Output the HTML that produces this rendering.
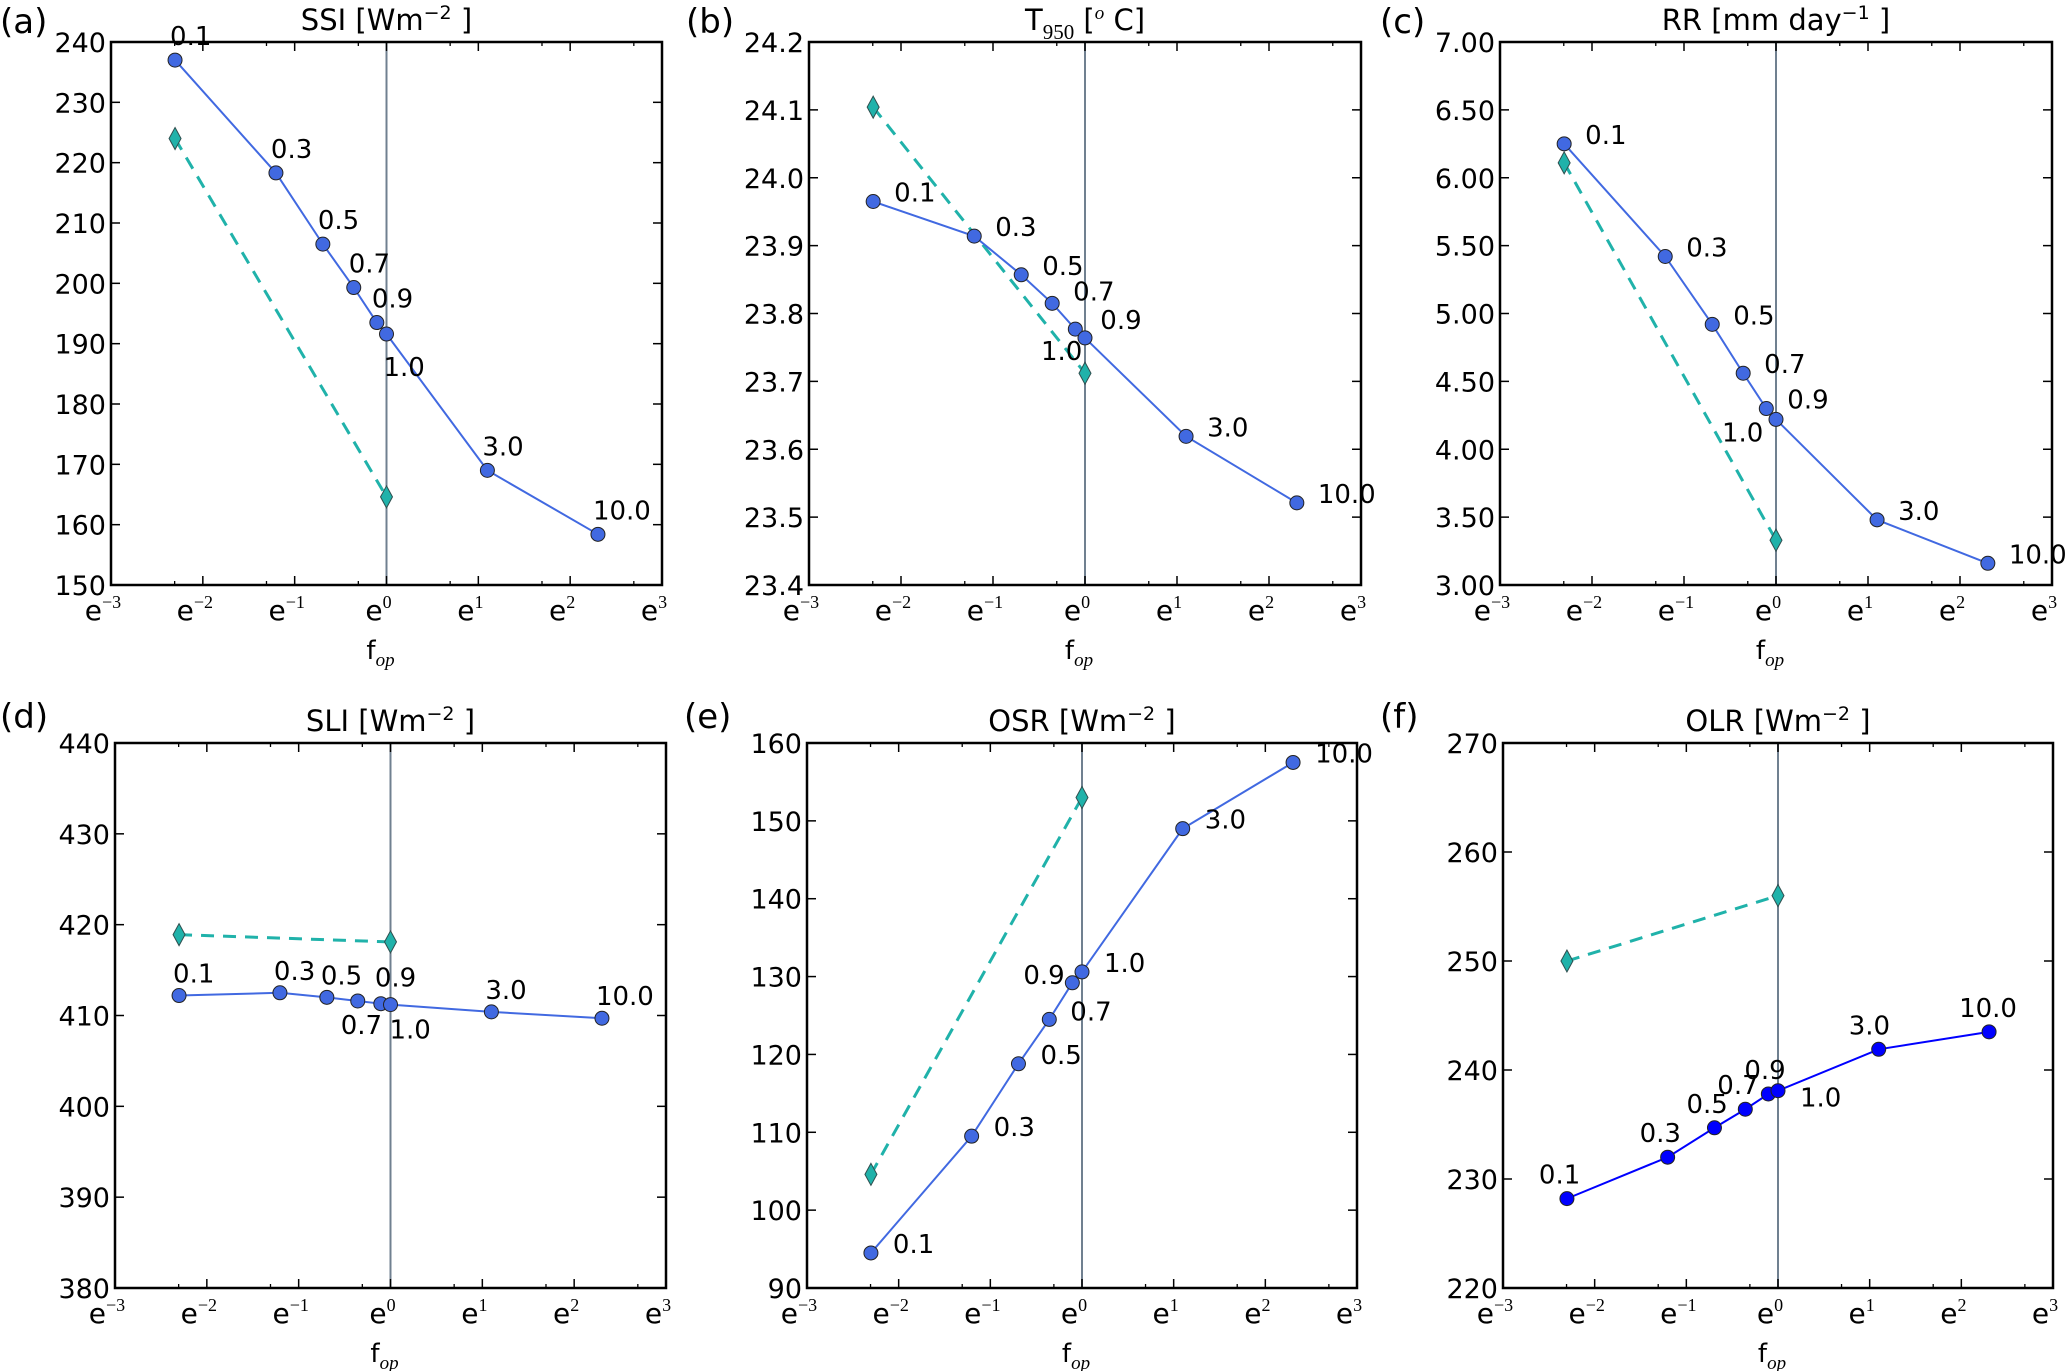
<!DOCTYPE html>
<html><head><meta charset="utf-8"><style>
html,body{margin:0;padding:0;background:#fff;}
svg{display:block;font-family:"DejaVu Sans","Liberation Sans",sans-serif;}
</style></head><body>
<svg id="fig" width="2067" height="1371" viewBox="0 0 2067 1371" xmlns="http://www.w3.org/2000/svg"></svg>
<script>
// ---- data ----
const fopValues = [0.1, 0.3, 0.5, 0.7, 0.9, 1.0, 3.0, 10.0];
const fopLabels = ["0.1","0.3","0.5","0.7","0.9","1.0","3.0","10.0"];
const diamondFop = [0.1, 1.0];
const ssiValues = [237, 218.3, 206.5, 199.3, 193.5, 191.6, 169, 158.4];
const ssiDiamonds = [224, 164.6];
const t950Values = [23.965, 23.914, 23.857, 23.815, 23.777, 23.764, 23.619, 23.521];
const t950Diamonds = [24.104, 23.712];
const rrValues = [6.25, 5.42, 4.92, 4.56, 4.30, 4.22, 3.48, 3.16];
const rrDiamonds = [6.11, 3.33];
const sliValues = [412.2, 412.5, 412.0, 411.6, 411.3, 411.2, 410.4, 409.7];
const sliDiamonds = [418.9, 418.1];
const osrValues = [94.5, 109.5, 118.8, 124.5, 129.2, 130.6, 149.0, 157.5];
const osrDiamonds = [104.6, 153.0];
const olrValues = [228.2, 232.0, 234.7, 236.4, 237.8, 238.1, 241.9, 243.5];
const olrDiamonds = [250.0, 256.0];
const xTickExps = [-3, -2, -1, 0, 1, 2, 3];
const ssiTicks = [150,160,170,180,190,200,210,220,230,240];
const t950Ticks = [23.4,23.5,23.6,23.7,23.8,23.9,24.0,24.1,24.2];
const rrTicks = [3.0,3.5,4.0,4.5,5.0,5.5,6.0,6.5,7.0];
const sliTicks = [380,390,400,410,420,430,440];
const osrTicks = [90,100,110,120,130,140,150,160];
const olrTicks = [220,230,240,250,260,270];

const NS = "http://www.w3.org/2000/svg";
const svg = document.getElementById("fig");
function mk(tag, attrs, parent){
  const e = document.createElementNS(NS, tag);
  for (const k in attrs) e.setAttribute(k, attrs[k]);
  (parent||svg).appendChild(e);
  return e;
}

const panels = [
  {id:"a", name:"ssi", x0:111, x1:662, y0:42, y1:585, ticks:ssiTicks, dec:0, vals:ssiValues, dia:ssiDiamonds,
   title:["SSI [Wm","−2"," ]"], lx:0, ly:33, line:"#4169e1", mk:"#4169e1",
   off:[[-5,-24],[-5,-24],[-5,-24],[-5,-24],[-5,-24],[-3,33],[-5,-24],[-5,-24]]},
  {id:"b", name:"t950", x0:809, x1:1361, y0:42, y1:585, ticks:t950Ticks, dec:1, vals:t950Values, dia:t950Diamonds,
   title:null, lx:686, ly:33, line:"#4169e1", mk:"#4169e1",
   off:[[21,-9],[21,-9],[21,-9],[21,-12],[25,-9],[-44,13],[21,-9],[21,-9]]},
  {id:"c", name:"rr", x0:1500, x1:2052, y0:42, y1:585, ticks:rrTicks, dec:2, vals:rrValues, dia:rrDiamonds,
   title:["RR [mm day","−1"," ]"], lx:1380, ly:33, line:"#4169e1", mk:"#4169e1",
   off:[[21,-9],[21,-9],[21,-9],[21,-9],[21,-9],[-54,13],[21,-9],[21,-9]]},
  {id:"d", name:"sli", x0:115, x1:666, y0:743, y1:1288, ticks:sliTicks, dec:0, vals:sliValues, dia:sliDiamonds,
   title:["SLI [Wm","−2"," ]"], lx:0, ly:728, line:"#4169e1", mk:"#4169e1",
   off:[[-6,-22],[-6,-22],[-6,-22],[-17,24],[-6,-26],[-1,25],[-6,-22],[-6,-22]]},
  {id:"e", name:"osr", x0:807, x1:1357, y0:743, y1:1288, ticks:osrTicks, dec:0, vals:osrValues, dia:osrDiamonds,
   title:["OSR [Wm","−2"," ]"], lx:684, ly:728, line:"#4169e1", mk:"#4169e1",
   off:[[22,-9],[22,-9],[22,-9],[21,-8],[-49,-8],[22,-9],[22,-9],[22,-9]]},
  {id:"f", name:"olr", x0:1503, x1:2053, y0:743, y1:1288, ticks:olrTicks, dec:0, vals:olrValues, dia:olrDiamonds,
   title:["OLR [Wm","−2"," ]"], lx:1380, ly:728, line:"#0000ff", mk:"#0000ff",
   off:[[-28,-24],[-28,-24],[-28,-24],[-28,-24],[-24,-24],[22,7],[-30,-24],[-30,-24]]}
];

panels.forEach(p => {
  const g = mk("g", {});
  
  
  const xs = v => p.x0 + (Math.log(v) + 3) / 6 * (p.x1 - p.x0);
  const xe = e => p.x0 + (e + 3) / 6 * (p.x1 - p.x0);
  const ymin = p.ticks[0], ymax = p.ticks[p.ticks.length-1];
  const ys = v => p.y1 - (v - ymin) / (ymax - ymin) * (p.y1 - p.y0);

  const pl = mk("text", {x:p.lx, y:p.ly, "font-size":34, fill:"#000"}, g);
  pl.textContent = "(" + p.id + ")";
  
  

  const cx = (p.x0 + p.x1) / 2;
  const tt = mk("text", {x:cx, y:p.y0 - 12, "font-size":29, "text-anchor":"middle", fill:"#000"}, g);
  
  
  if (p.title) {
    const a = mk("tspan", {}, tt); a.textContent = p.title[0];
    const b = mk("tspan", {dy:-11, "font-size":19}, tt); b.textContent = p.title[1];
    const c = mk("tspan", {dy:11}, tt); c.textContent = p.title[2];
  } else {
    const a = mk("tspan", {}, tt); a.textContent = "T";
    const b = mk("tspan", {dy:9, "font-size":21, "font-family":"Liberation Serif, serif"}, tt); b.textContent = "950";
    const c = mk("tspan", {dy:-9}, tt); c.textContent = " [";
    const d = mk("tspan", {dy:-11, "font-size":19, "font-style":"italic", "font-family":"Liberation Serif, serif"}, tt); d.textContent = "o";
    const e = mk("tspan", {dy:11}, tt); e.textContent = " C]";
  }

  const vl = mk("line", {x1:xe(0), x2:xe(0), y1:p.y0, y2:p.y1, stroke:"#708090", "stroke-width":2}, g);
  
  

  xTickExps.forEach((e, i) => {
    const x = xe(e);
    if (i > 0 && i < xTickExps.length - 1) {
      mk("line", {x1:x, x2:x, y1:p.y1, y2:p.y1 - 9, stroke:"#000", "stroke-width":1.5}, g);
      mk("line", {x1:x, x2:x, y1:p.y0, y2:p.y0 + 9, stroke:"#000", "stroke-width":1.5}, g);
    }
    if (i < xTickExps.length - 1) {
      const xm = xe(e + Math.log(2));
      mk("line", {x1:xm, x2:xm, y1:p.y1, y2:p.y1 - 4, stroke:"#000", "stroke-width":1.3}, g);
      mk("line", {x1:xm, x2:xm, y1:p.y0, y2:p.y0 + 4, stroke:"#000", "stroke-width":1.3}, g);
    }
    const t = mk("text", {x:x - 8, y:p.y1 + 35, "font-size":28, "text-anchor":"middle", fill:"#000"}, g);
    
    
    const a = mk("tspan", {}, t); a.textContent = "e";
    const b = mk("tspan", {dy:-12, "font-size":18, "font-family":"Liberation Serif, serif"}, t);
    b.textContent = (e < 0 ? "−" : "") + Math.abs(e);
  });

  p.ticks.forEach((v, i) => {
    const y = ys(v);
    if (i > 0 && i < p.ticks.length - 1) {
      mk("line", {x1:p.x0, x2:p.x0 + 9, y1:y, y2:y, stroke:"#000", "stroke-width":1.5}, g);
      mk("line", {x1:p.x1, x2:p.x1 - 9, y1:y, y2:y, stroke:"#000", "stroke-width":1.5}, g);
    }
    const t = mk("text", {x:p.x0 - 5, y:y + 10, "font-size":27, "text-anchor":"end", fill:"#000"}, g);
    t.textContent = v.toFixed(p.dec);
    
    
  });

  const xt = mk("text", {x:cx - 6, y:p.y1 + 74, "font-size":26, "text-anchor":"middle", fill:"#000"}, g);
  
  
  const xa = mk("tspan", {}, xt); xa.textContent = "f";
  const xb = mk("tspan", {dy:7, "font-size":19, "font-style":"italic", "font-family":"Liberation Serif, serif"}, xt); xb.textContent = "op";

  const dpts = diamondFop.map((f, i) => xs(f) + "," + ys(p.dia[i])).join(" ");
  const dl = mk("polyline", {points:dpts, fill:"none", stroke:"#20b2aa", "stroke-width":3, "stroke-dasharray":"13,9"}, g);
  
  
  diamondFop.forEach((f, i) => {
    const x = xs(f), y = ys(p.dia[i]);
    const d = mk("polygon", {points:`${x},${y-11} ${x+6},${y} ${x},${y+11} ${x-6},${y}`, fill:"#20b2aa", stroke:"#2f4f4f", "stroke-width":1}, g);
    
    
  });

  const spts = fopValues.map((f, i) => xs(f) + "," + ys(p.vals[i])).join(" ");
  const sl = mk("polyline", {points:spts, fill:"none", stroke:p.line, "stroke-width":2}, g);
  
  
  fopValues.forEach((f, i) => {
    const x = xs(f), y = ys(p.vals[i]);
    const c = mk("circle", {cx:x, cy:y, r:7, fill:p.mk, stroke:"#222", "stroke-width":1}, g);
    
    
    const t = mk("text", {x:x + p.off[i][0], y:y + p.off[i][1] + 9, "font-size":26, fill:"#000"}, g);
    t.textContent = fopLabels[i];
    
    
  });

  const fr = mk("rect", {x:p.x0, y:p.y0, width:p.x1 - p.x0, height:p.y1 - p.y0, fill:"none", stroke:"#000", "stroke-width":2.5}, g);
  
  
});
</script>
</body></html>
